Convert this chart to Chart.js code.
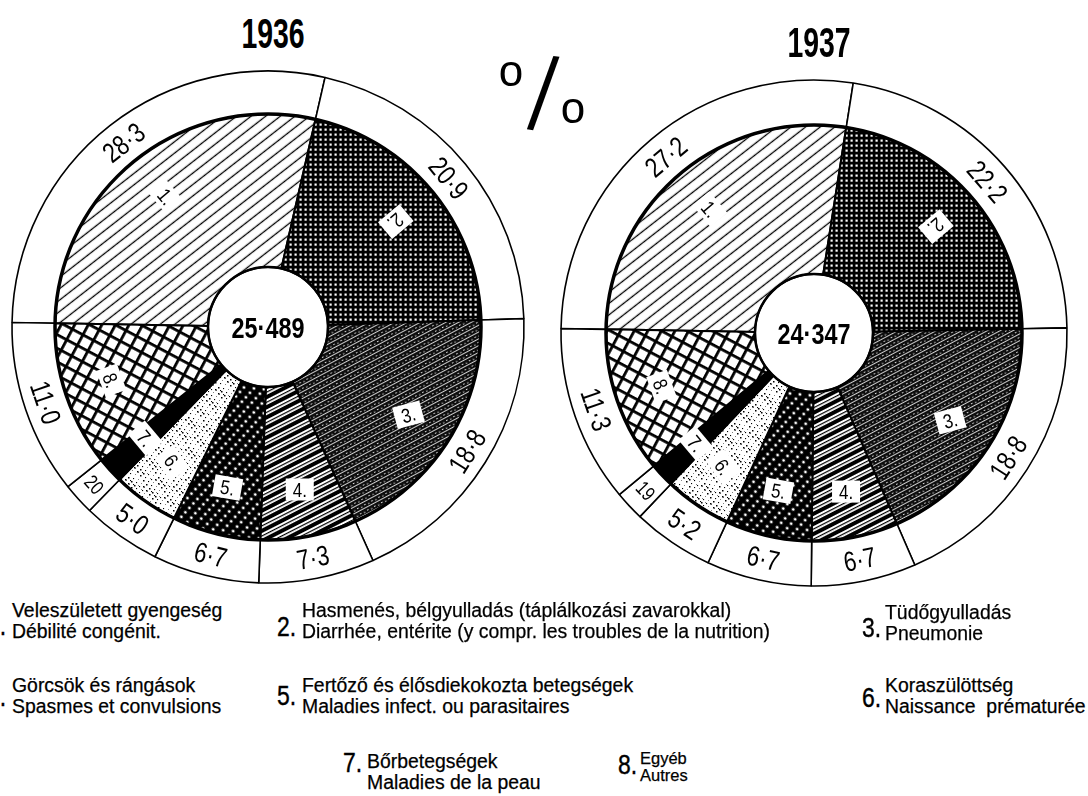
<!DOCTYPE html>
<html lang="hu">
<head>
<meta charset="UTF-8">
<title>Halálokok 1936 - 1937</title>
<script src="https://cdn.jsdelivr.net/npm/chart.js@4"></script>
<style>
  body { margin: 0; width: 1088px; height: 796px; position: relative; overflow: hidden; background: #fff; color: #000; font-family: 'Liberation Sans', Arial, sans-serif; }
  canvas { position: absolute; }
  .abs { position: absolute; white-space: nowrap; line-height: 1; }
  .year { font-size: 43px; font-weight: bold; transform: translate(-50%, -50%) scaleX(0.66); }
  .leg { font-size: 20px; line-height: 21px; transform-origin: 0 0; -webkit-text-stroke: 0.25px #000; }
  .num { font-size: 27px; transform-origin: 0 0; -webkit-text-stroke: 0.4px #000; }
</style>
</head>
<body>
<canvas id="c1936" width="540" height="540"></canvas>
<canvas id="c1937" width="540" height="540"></canvas>
<div id="text"></div>
<script>
  // data
  const years = ['1936', '1937'];
  const causeNums = ['1.', '2.', '3.', '4.', '5.', '6.', '7.', '8.'];
  const causesHu = ['Veleszületett gyengeség', 'Hasmenés, bélgyulladás (táplálkozási zavarokkal)', 'Tüdőgyulladás',
    'Görcsök és rángások', 'Fertőző és élősdiekokozta betegségek', 'Koraszülöttség', 'Bőrbetegségek', 'Egyéb'];
  const causesFr = ['Débilité congénit.', 'Diarrhée, entérite (y compr. les troubles de la nutrition)', 'Pneumonie',
    'Spasmes et convulsions', 'Maladies infect. ou parasitaires', 'Naissance  prématurée', 'Maladies de la peau', 'Autres'];
  const share1936 = [28.3, 20.9, 18.8, 7.3, 6.7, 5.0, 2.0, 11.0];
  const share1937 = [27.2, 22.2, 18.8, 6.7, 6.7, 5.2, 1.9, 11.3];
  const totals = [25489, 24347];

  // layout
  const geom = [
    { cx: 268, cy: 327, outer: 256, pie: 213, hole: 60, tx: 273, ty: 33 },
    { cx: 814, cy: 333, outer: 253, pie: 208, hole: 59, tx: 819, ty: 42 }
  ];
  const labelRot = [50, 140, -15, 0, 10, 55, 50, 70];
  // numeral x / cap top, text x / cap top
  const legendPos = [
    [-13, 617, 12, 603], [277, 618, 302, 603], [862, 619, 885, 605],
    [-13, 688, 12, 678], [277, 687, 302, 678], [862, 689, 885, 678],
    [343, 754, 367, 754], [618, 756, 640, 752]
  ];

  const shares = [share1936, share1937];
  const fmtDot = n => String(n).replace(/\B(?=(\d{3})+(?!\d))/g, '·');

  function makePattern(w, h, draw, angle) {
    const c = document.createElement('canvas');
    c.width = w; c.height = h;
    const g = c.getContext('2d');
    draw(g, w, h);
    const p = g.createPattern(c, 'repeat');
    if (angle) p.setTransform(new DOMMatrix().rotateSelf(angle));
    return p;
  }

  const patterns = [
    makePattern(10, 9, (g, w) => { g.fillStyle = '#fff'; g.fillRect(0, 0, w, 9); g.fillStyle = '#000'; g.fillRect(0, 3.8, w, 1.3); }, -38),
    makePattern(5, 5, g => { g.fillStyle = '#000'; g.fillRect(0, 0, 5, 5); g.fillStyle = '#fff'; g.fillRect(1.5, 1.5, 2.2, 2.2); }),
    makePattern(8, 6, g => {
      g.fillStyle = '#0d0d0d'; g.fillRect(0, 0, 8, 6);
      g.fillStyle = '#fff'; g.fillRect(0, 0, 8, 0.8); g.fillRect(1, 3, 1.6, 0.9); g.fillRect(5, 3.8, 1.6, 0.8);
    }, -28),
    makePattern(10, 9, g => { g.fillStyle = '#fff'; g.fillRect(0, 0, 10, 9); g.fillStyle = '#000'; g.fillRect(0, 0, 10, 4); g.fillRect(0, 6, 10, 1.2); }, -27),
    makePattern(6, 8, g => {
      g.fillStyle = '#000'; g.fillRect(0, 0, 6, 8);
      g.fillStyle = '#fff'; g.beginPath(); g.arc(3, 4, 1.4, 0, Math.PI * 2); g.fill();
    }, -48),
    makePattern(30, 30, g => {
      g.fillStyle = '#fff'; g.fillRect(0, 0, 30, 30); g.fillStyle = '#000';
      for (let i = 0; i < 70; i++) {
        const x = (i * 73 + 11) % 30, y = (i * 151 + 7) % 29, s = 0.7 + (i % 3) * 0.4;
        g.fillRect(x, y, s, s);
      }
    }),
    '#000',
    makePattern(12, 12, g => { g.fillStyle = '#fff'; g.fillRect(0, 0, 12, 12); g.fillStyle = '#000'; g.fillRect(0, 0, 12, 2.8); g.fillRect(0, 0, 2.8, 12); }, 28)
  ];

  function drawText(ctx, txt, x, y, rot, size, sx, bold) {
    ctx.save();
    ctx.translate(x, y);
    ctx.rotate(rot);
    ctx.scale(sx, 1);
    ctx.font = (bold ? 'bold ' : '') + size + "px 'Liberation Sans', Arial, sans-serif";
    ctx.textAlign = 'center';
    ctx.textBaseline = 'alphabetic';
    ctx.fillText(txt, 0, size * 0.358);
    ctx.restore();
  }

  function annotate(total) {
    return {
      id: 'annotate',
      afterDatasetsDraw(chart) {
        const ctx = chart.ctx;
        const ring = chart.getDatasetMeta(0).data;
        const pie = chart.getDatasetMeta(1).data;
        const values = chart.data.datasets[0].data;
        const { x: cx, y: cy, innerRadius: hole, outerRadius: pieR } = pie[0];
        ctx.save();
        ctx.strokeStyle = '#000';
        ctx.lineWidth = 3.5;
        ctx.beginPath(); ctx.arc(cx, cy, pieR, 0, Math.PI * 2); ctx.stroke();
        ctx.lineWidth = 2.5;
        ctx.beginPath(); ctx.arc(cx, cy, hole, 0, Math.PI * 2); ctx.stroke();
        ctx.fillStyle = '#000';

        ring.forEach((arc, i) => {
          const mid = (arc.startAngle + arc.endAngle) / 2;
          const r = (arc.innerRadius + arc.outerRadius) / 2;
          let rot = mid + Math.PI / 2;
          const deg = ((rot * 180 / Math.PI) % 360 + 360) % 360;
          if (deg > 90 && deg < 270) rot -= Math.PI;
          const small = values[i] < 3;
          const txt = values[i].toFixed(1).replace('.', small ? '' : '·');
          drawText(ctx, txt, cx + Math.cos(mid) * r, cy + Math.sin(mid) * r, rot, small ? 20 : 28, 0.8);
        });

        pie.forEach((arc, i) => {
          const mid = (arc.startAngle + arc.endAngle) / 2;
          const r = arc.innerRadius + 0.69 * (arc.outerRadius - arc.innerRadius);
          const x = cx + Math.cos(mid) * r, y = cy + Math.sin(mid) * r;
          const rot = labelRot[i] * Math.PI / 180;
          ctx.save();
          ctx.translate(x, y); ctx.rotate(rot);
          ctx.fillStyle = '#fff';
          ctx.fillRect(-14, -11, 28, 22);
          ctx.restore();
          ctx.fillStyle = '#000';
          drawText(ctx, causeNums[i], x, y, rot, 20, 0.85);
        });

        ctx.fillStyle = '#000';
        drawText(ctx, fmtDot(total), cx, cy, 0, 30, 0.78, true);
        ctx.restore();
      }
    };
  }

  years.forEach((year, k) => {
    const g = geom[k];
    const cv = document.getElementById('c' + year);
    cv.style.left = (g.cx - 270) + 'px';
    cv.style.top = (g.cy - 270) + 'px';
    new Chart(cv, {
      type: 'doughnut',
      data: {
        labels: causeNums,
        datasets: [
          { data: shares[k], backgroundColor: '#fff', borderColor: '#000', borderWidth: 1.6, weight: g.outer - g.pie },
          { data: shares[k], backgroundColor: patterns, borderColor: '#000', borderWidth: 2, weight: g.pie - g.hole }
        ]
      },
      options: {
        responsive: false,
        animation: false,
        events: [],
        rotation: -89,
        radius: g.outer,
        cutout: (g.hole / g.outer * 100) + '%',
        layout: { padding: 0 },
        plugins: { legend: { display: false }, tooltip: { enabled: false } }
      },
      plugins: [annotate(totals[k])]
    });
  });

  // titles, percent sign and legend as page text
  const box = document.getElementById('text');
  function put(cls, txt, left, top, extra) {
    const d = document.createElement('div');
    d.className = 'abs ' + cls;
    d.textContent = txt;
    d.style.left = left + 'px';
    d.style.top = top + 'px';
    if (extra) Object.assign(d.style, extra);
    box.appendChild(d);
    return d;
  }
  years.forEach((year, k) => put('year', year, geom[k].tx, geom[k].ty));
  put('', 'o', 511, 71, { fontSize: '44px', transform: 'translate(-50%, -50%)' });
  put('', '/', 543, 95, { fontSize: '80px', transform: 'translate(-50%, -50%) rotate(8deg) scaleY(1.3)' });
  put('', 'o', 573, 108, { fontSize: '44px', transform: 'translate(-50%, -50%)' });

  causeNums.forEach((n, i) => {
    const [nx, ny, tx, ty] = legendPos[i];
    const small = i === 7;
    put('num', n, nx, ny - 27 * 0.1305, { transform: 'scaleX(0.85)' });
    const f = small ? 17 : 20, lh = small ? 17 : 21;
    const t = put('leg', '', tx, ty - ((lh - 1.117 * f) / 2 + 0.189 * f), { fontSize: f + 'px', lineHeight: lh + 'px', transform: 'scaleX(0.97)' });
    t.innerHTML = causesHu[i] + '<br>' + causesFr[i].replace(/  /g, '&nbsp; ');
  });
</script>
</body>
</html>
